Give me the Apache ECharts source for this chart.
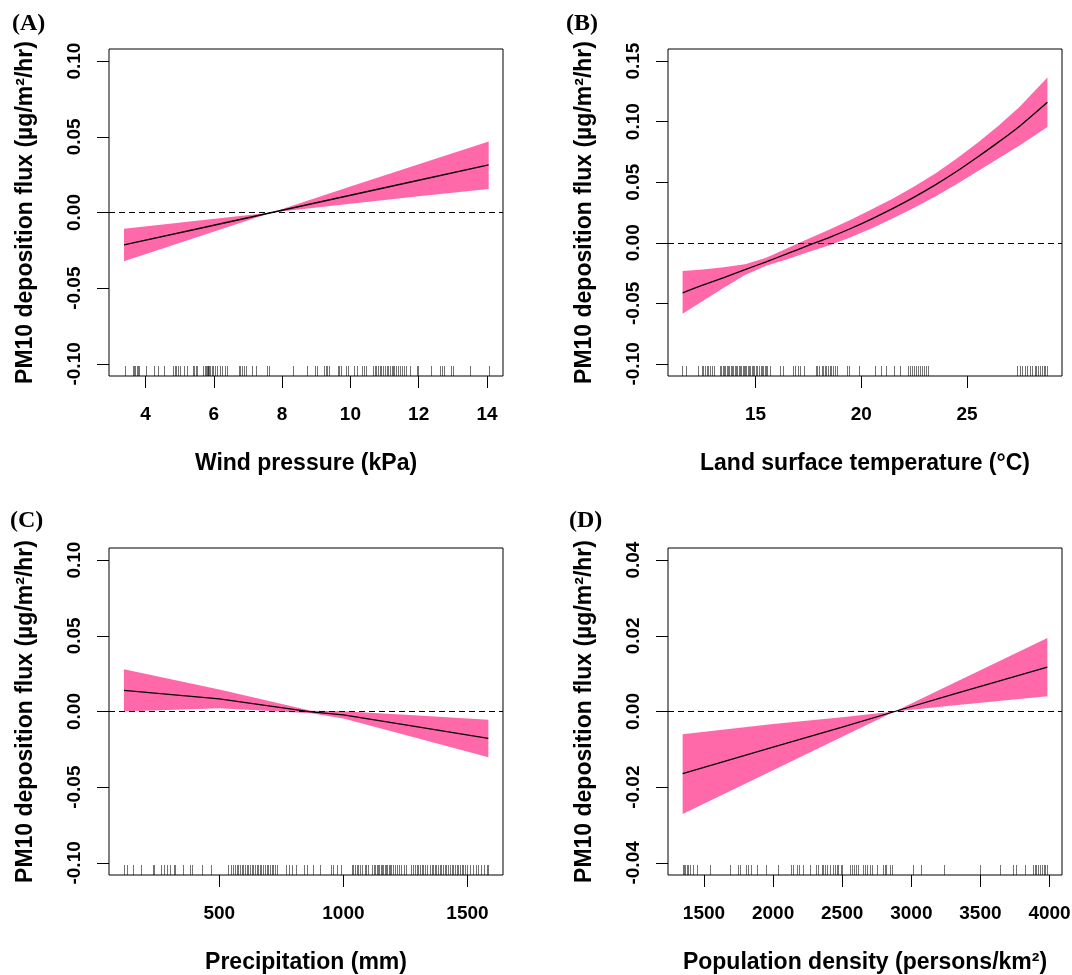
<!DOCTYPE html>
<html>
<head>
<meta charset="utf-8" />
<title>PM10 deposition flux - partial effects</title>
<script src="https://cdn.jsdelivr.net/npm/echarts@6/dist/echarts.min.js"></script>
<style>
  html, body { margin: 0; padding: 0; background: #fff; }
  #main { width: 1072px; height: 975px; }
</style>
</head>
<body>
<div id="main"></div>
<script>
// (A) wind pressure
const windX   = [3.37, 5.5, 7.7, 10, 12, 14.05];
const windFit = [-0.0214, -0.0109, 0.0000, 0.0114, 0.0213, 0.0315];
const windLo  = [-0.0322, -0.0163, 0.0000, 0.0057, 0.0107, 0.0156];
const windHi  = [-0.0108, -0.0055, 0.0000, 0.0171, 0.0319, 0.0469];
const windRug = [3.39, 3.63, 3.66, 3.70, 3.74, 3.78, 3.81, 4.02, 4.26, 4.36, 4.54, 4.81, 4.85, 4.89, 4.95,
  5.02, 5.14, 5.20, 5.38, 5.43, 5.47, 5.51, 5.69, 5.73, 5.76, 5.79, 5.82, 5.84, 5.87, 5.90, 5.94, 5.98,
  6.03, 6.10, 6.18, 6.25, 6.32, 6.39, 6.74, 6.78, 6.82, 6.88, 6.94, 7.13, 7.23, 7.56, 7.63, 8.32, 8.73,
  8.95, 9.03, 9.24, 9.28, 9.32, 9.38, 9.63, 9.67, 9.73, 9.87, 9.92, 10.12, 10.18, 10.35, 10.41, 10.46,
  10.67, 10.72, 10.76, 10.81, 10.86, 10.91, 10.96, 11.01, 11.06, 11.11, 11.16, 11.21, 11.25, 11.29,
  11.34, 11.39, 11.45, 11.50, 11.56, 11.64, 11.74, 11.94, 11.98, 12.37, 12.62, 12.67, 12.74, 12.95,
  13.01, 13.50, 14.05];
const windTicks = [4, 6, 8, 10, 12, 14];

// (B) land surface temperature
const lstX   = [11.55, 12.5, 13.5, 14.5, 15.5, 16.5, 17.5, 18.5, 19.5, 20.5, 21.5, 22.5, 23.5, 24.5, 25.5, 26.5, 27.5, 28.8];
const lstFit = [-0.0413, -0.0350, -0.0287, -0.0222, -0.0157, -0.0090, -0.0022, 0.0045, 0.0118, 0.0198, 0.0284, 0.0377, 0.0478, 0.0588, 0.0708, 0.0833, 0.0965, 0.1160];
const lstLo  = [-0.0585, -0.0480, -0.0372, -0.0267, -0.0190, -0.0135, -0.0077, -0.0020, 0.0046, 0.0120, 0.0202, 0.0290, 0.0383, 0.0483, 0.0590, 0.0698, 0.0805, 0.0955];
const lstHi  = [-0.0232, -0.0220, -0.0202, -0.0177, -0.0124, -0.0045, 0.0033, 0.0110, 0.0190, 0.0276, 0.0366, 0.0464, 0.0573, 0.0693, 0.0826, 0.0968, 0.1125, 0.1365];
const lstRug = [11.54, 11.69, 12.29, 12.45, 12.53, 12.61, 12.69, 12.76, 12.84, 12.92, 13.03, 13.31, 13.38,
  13.44, 13.50, 13.57, 13.63, 13.69, 13.76, 13.82, 13.88, 13.94, 14.01, 14.07, 14.13, 14.20, 14.26, 14.32,
  14.39, 14.45, 14.51, 14.57, 14.64, 14.70, 14.76, 14.83, 14.89, 14.95, 15.02, 15.08, 15.17, 15.24, 15.30,
  15.36, 15.43, 15.49, 15.55, 15.68, 16.15, 16.31, 16.78, 16.86, 17.02, 17.09, 17.28, 17.85, 17.91, 17.98,
  18.12, 18.20, 18.28, 18.35, 18.43, 18.51, 18.59, 18.67, 18.75, 18.86, 19.33, 19.43, 19.90, 20.65, 20.91,
  21.19, 21.54, 21.85, 22.23, 22.32, 22.42, 22.48, 22.57, 22.67, 22.76, 22.86, 22.95, 23.05, 23.16, 27.36,
  27.49, 27.61, 27.72, 27.83, 27.96, 28.09, 28.20, 28.28, 28.35, 28.45, 28.55, 28.62, 28.70, 28.80];
const lstTicks = [15, 20, 25];

// (C) precipitation
const precipX   = [116, 500, 870, 1000, 1250, 1584];
const precipFit = [0.0139, 0.0084, -0.0003, -0.0022, -0.0088, -0.0177];
const precipLo  = [0.0000, 0.0022, -0.0011, -0.0046, -0.0155, -0.0303];
const precipHi  = [0.0279, 0.0146, 0.0005, 0.0002, -0.0021, -0.0055];
const precipRug = [116, 130, 154, 183, 234, 237, 264, 277, 288, 301, 317, 321, 355, 382, 390, 430, 465,
  536, 546, 556, 563, 570, 577, 583, 590, 597, 603, 610, 617, 624, 630, 637, 644, 650, 657, 664, 670, 677,
  684, 691, 697, 704, 711, 717, 724, 731, 768, 779, 791, 811, 841, 854, 879, 905, 952, 959, 975, 989,
  1033, 1040, 1046, 1053, 1060, 1067, 1077, 1087, 1093, 1100, 1117, 1123, 1128, 1134, 1139, 1144, 1150,
  1155, 1160, 1166, 1171, 1177, 1182, 1187, 1193, 1198, 1207, 1214, 1225, 1234, 1244, 1254, 1274, 1281,
  1288, 1295, 1301, 1308, 1315, 1321, 1328, 1335, 1348, 1355, 1362, 1368, 1375, 1382, 1389, 1395, 1402,
  1409, 1415, 1422, 1429, 1436, 1442, 1449, 1456, 1462, 1469, 1476, 1483, 1489, 1496, 1509, 1523, 1534,
  1543, 1556, 1566, 1577, 1583];
const precipTicks = [500, 1000, 1500];

// (D) population density
const popX   = [1346, 2000, 2500, 2880, 3300, 3984];
const popFit = [-0.0164, -0.0094, -0.0041, 0.0000, 0.0045, 0.0117];
const popLo  = [-0.0271, -0.0155, -0.0067, 0.0000, 0.0016, 0.0040];
const popHi  = [-0.0060, -0.0033, -0.0015, 0.0000, 0.0074, 0.0194];
const popRug = [1346, 1355, 1365, 1375, 1384, 1399, 1423, 1452, 1543, 1688, 1748, 1760, 1804, 1820, 1837,
  1886, 1948, 2037, 2129, 2141, 2170, 2189, 2218, 2266, 2314, 2327, 2351, 2363, 2377, 2392, 2411, 2430,
  2445, 2459, 2473, 2488, 2498, 2560, 2570, 2584, 2599, 2613, 2647, 2664, 2681, 2700, 2719, 2753, 2796,
  2808, 2820, 2849, 2861, 3013, 3069, 3235, 3500, 3645, 3736, 3755, 3820, 3881, 3893, 3905, 3917, 3930,
  3945, 3958, 3970, 3984];
const popTicks = [1500, 2000, 2500, 3000, 3500, 4000];

// y ticks
const fluxTicks    = [-0.10, -0.05, 0.00, 0.05, 0.10];
const lstFluxTicks = [-0.10, -0.05, 0.00, 0.05, 0.10, 0.15];
const popFluxTicks = [-0.04, -0.02, 0.00, 0.02, 0.04];

const yTitle = 'PM10 deposition flux (µg/m²/hr)';
const PINK = '#ff69a9';
const SANS = '"Liberation Sans", Arimo, Arial, sans-serif';
const SERIF = '"Liberation Serif", "Times New Roman", serif';

const panels = [
  { tag: '(A)', tagLeft: 12,  tagTop: 12,  left: 109, top: 49,
    xName: 'Wind pressure (kPa)', xRange: [2.93, 14.47], yRange: [-0.108, 0.108],
    xTicks: windTicks, yTicks: fluxTicks, x: windX, fit: windFit, lo: windLo, hi: windHi, rug: windRug, smooth: false },
  { tag: '(B)', tagLeft: 566, tagTop: 12,  left: 668, top: 49,
    xName: 'Land surface temperature (°C)', xRange: [10.86, 29.49], yRange: [-0.11, 0.16],
    xTicks: lstTicks, yTicks: lstFluxTicks, x: lstX, fit: lstFit, lo: lstLo, hi: lstHi, rug: lstRug, smooth: 0.3 },
  { tag: '(C)', tagLeft: 10,  tagTop: 509, left: 109, top: 548,
    xName: 'Precipitation (mm)', xRange: [55.8, 1643], yRange: [-0.108, 0.108],
    xTicks: precipTicks, yTicks: fluxTicks, x: precipX, fit: precipFit, lo: precipLo, hi: precipHi, rug: precipRug, smooth: false },
  { tag: '(D)', tagLeft: 569, tagTop: 509, left: 668, top: 548,
    xName: 'Population density (persons/km²)', xRange: [1240, 4090], yRange: [-0.0432, 0.0432],
    xTicks: popTicks, yTicks: popFluxTicks, x: popX, fit: popFit, lo: popLo, hi: popHi, rug: popRug, smooth: false }
];

const chart = echarts.init(document.getElementById('main'));

const option = {
  animation: false,
  backgroundColor: '#fff',
  title: [], grid: [], xAxis: [], yAxis: [], series: []
};

panels.forEach(function (p, i) {
  option.title.push({
    text: p.tag, left: p.tagLeft, top: p.tagTop, padding: 0,
    textStyle: { fontFamily: SERIF, fontWeight: 'bold', fontSize: 24, color: '#000' }
  });
  option.grid.push({
    left: p.left, top: p.top, width: 394, height: 327,
    show: true, borderColor: '#000', borderWidth: 1, backgroundColor: 'transparent',
    outerBoundsMode: 'none'
  });
  option.xAxis.push({
    type: 'value', gridIndex: i, min: p.xRange[0], max: p.xRange[1],
    axisLine: { show: false, onZero: false },
    axisTick: { show: true, inside: false, length: 12, customValues: p.xTicks, lineStyle: { color: '#000', width: 1 } },
    axisLabel: { customValues: p.xTicks, color: '#000', fontSize: 19, fontWeight: 'bold', fontFamily: SANS, margin: 29,
      formatter: function (v) { return String(v); } },
    splitLine: { show: false },
    name: p.xName, nameLocation: 'middle', nameGap: 76,
    nameTextStyle: { color: '#000', fontSize: 23, fontWeight: 'bold', fontFamily: SANS }
  });
  option.yAxis.push({
    type: 'value', gridIndex: i, min: p.yRange[0], max: p.yRange[1],
    axisLine: { show: false, onZero: false },
    axisTick: { show: true, inside: false, length: 12, customValues: p.yTicks, lineStyle: { color: '#000', width: 1 } },
    axisLabel: { customValues: p.yTicks, color: '#000', fontSize: 19, fontWeight: 'bold', fontFamily: SANS, margin: 25, rotate: 90,
      formatter: function (v) { return Number(v).toFixed(2); } },
    splitLine: { show: false },
    name: yTitle, nameLocation: 'middle', nameGap: 72, nameRotate: 90,
    nameTextStyle: { color: '#000', fontSize: 23, fontWeight: 'bold', fontFamily: SANS }
  });

  // confidence band
  option.series.push({
    type: 'custom', xAxisIndex: i, yAxisIndex: i, silent: true, z: 1,
    data: [[p.x[0], p.fit[0]]],
    renderItem: function (params, api) {
      const pts = p.x.map(function (x, k) { return api.coord([x, p.hi[k]]); });
      for (let k = p.x.length - 1; k >= 0; k--) pts.push(api.coord([p.x[k], p.lo[k]]));
      return { type: 'polygon', shape: { points: pts }, style: { fill: PINK } };
    }
  });

  // rug
  option.series.push({
    type: 'custom', xAxisIndex: i, yAxisIndex: i, silent: true, z: 2,
    data: p.rug.map(function (v) { return [v, p.yRange[0]]; }),
    renderItem: function (params, api) {
      const c = api.coord([api.value(0), api.value(1)]);
      const bottom = params.coordSys.y + params.coordSys.height;
      const x = Math.round(c[0]) + 0.5;
      return { type: 'line', shape: { x1: x, y1: bottom, x2: x, y2: bottom - 10 },
        style: { stroke: '#000', lineWidth: 1, opacity: 0.55 } };
    }
  });

  // fitted smooth + zero reference
  option.series.push({
    type: 'line', xAxisIndex: i, yAxisIndex: i, silent: true, z: 4,
    data: p.x.map(function (x, k) { return [x, p.fit[k]]; }),
    symbol: 'none', smooth: p.smooth,
    lineStyle: { color: '#000', width: 1.3 },
    markLine: {
      silent: true, symbol: 'none', label: { show: false },
      lineStyle: { color: '#000', type: [6, 4], width: 1.2 },
      data: [{ yAxis: 0 }]
    }
  });
});

chart.setOption(option);
</script>
</body>
</html>
